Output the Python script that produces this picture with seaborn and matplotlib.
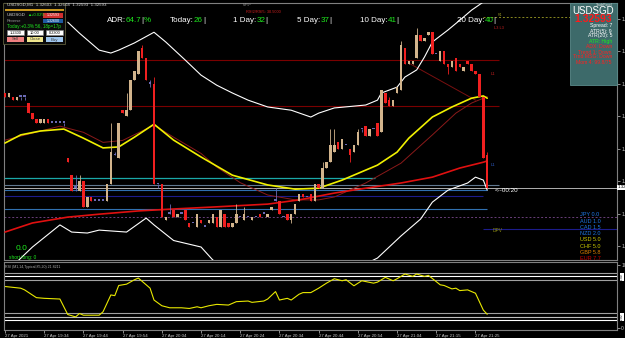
import numpy as np
import pandas as pd
import seaborn as sns
import matplotlib.pyplot as plt
from matplotlib.patches import Rectangle

W, H = 625, 338
BASE = 1.32500
POINT = 0.00001

# USDSGD M1 candles, quoted in points above 1.32500
opens = [122, 121, 121, 120, 121, 121, 119, 116, 114, 113,
         113, 114, 113, 113, 113, 113, 102, 97, 93, 92,
         95, 87, 90, 89, 89, 89, 89, 94, 103, 102,
         117, 115, 117, 126, 128, 136, 133, 125, 125, 94,
         94, 83, 85, 86, 84, 85, 86, 82, 82, 81,
         83, 81, 82, 82, 84, 81, 85, 82, 81, 82,
         84, 83, 84, 83, 84, 85, 85, 84, 86, 89,
         89, 84, 85, 83, 85, 89, 91, 90, 91, 89,
         94, 93, 99, 101, 104, 107, 105, 106, 105, 104,
         106, 111, 112, 109, 111, 113, 110, 122, 120, 118,
         122, 123, 136, 131, 131, 133, 140, 138, 140, 141,
         134, 132, 135, 131, 130, 133, 131, 129, 132, 131,
         129, 128, 121, 103]
closes = [121, 122, 120, 121, 121, 121, 116, 114, 113, 114,
          114, 113, 113, 113, 113, 113, 101, 92, 93, 95,
          87, 90, 89, 89, 89, 89, 94, 104, 103, 113,
          116, 117, 126, 129, 135, 133, 126, 125, 94, 94,
          84, 84, 85, 84, 85, 85, 83, 81, 82, 85,
          82, 81, 83, 85, 81, 86, 81, 81, 82, 85,
          84, 85, 84, 84, 84, 84, 85, 85, 87, 89,
          85, 84, 83, 85, 88, 91, 90, 90, 89, 94,
          93, 99, 101, 106, 106, 105, 108, 106, 103, 106,
          110, 111, 109, 111, 111, 109, 123, 119, 118, 120,
          124, 137, 131, 132, 132, 140, 138, 139, 141, 134,
          134, 135, 131, 130, 132, 129, 130, 130, 131, 129,
          128, 121, 102, 93]
highs = [122, 122, 121, 121, 121, 121, 119, 116, 114, 114,
         114, 114, 113, 113, 113, 113, 102, 97, 97, 97,
         95, 90, 90, 89, 89, 89, 94, 113, 104, 113,
         117, 122, 126, 129, 135, 137, 133, 126, 127, 94,
         94, 84, 88, 86, 85, 85, 86, 82, 82, 85,
         83, 81, 83, 85, 84, 86, 85, 82, 82, 88,
         84, 87, 84, 84, 84, 85, 85, 85, 87, 93,
         89, 84, 85, 85, 88, 91, 91, 90, 91, 94,
         94, 101, 101, 111, 111, 107, 108, 106, 105, 106,
         111, 111, 112, 111, 111, 113, 123, 122, 121, 120,
         124, 138, 136, 132, 132, 142, 140, 139, 141, 141,
         134, 135, 135, 131, 132, 133, 131, 130, 132, 131,
         129, 128, 121, 104]
lows = [121, 121, 120, 120, 120, 120, 116, 114, 113, 113,
        113, 113, 113, 113, 113, 112, 101, 92, 92, 92,
        87, 87, 89, 89, 89, 89, 89, 94, 103, 102,
        116, 115, 117, 126, 128, 133, 126, 124, 94, 93,
        84, 83, 85, 84, 84, 85, 83, 81, 82, 81,
        82, 81, 82, 82, 81, 81, 81, 81, 81, 82,
        84, 83, 84, 83, 84, 84, 85, 84, 86, 89,
        85, 84, 83, 82, 85, 89, 90, 90, 89, 89,
        93, 93, 99, 101, 104, 105, 105, 106, 101, 104,
        106, 110, 109, 109, 111, 109, 110, 119, 118, 118,
        122, 123, 131, 131, 131, 133, 138, 138, 140, 134,
        134, 132, 131, 128, 130, 129, 130, 129, 131, 129,
        128, 121, 102, 93]

# indicator readings (bar index, points above 1.32500)
bb_up_bar = [16, 19, 24, 27, 29, 33, 38, 41, 46, 50, 54, 58, 62, 67, 73, 78,
             80, 84, 92, 95, 96, 100, 102, 105, 107, 109, 113, 116, 119, 122, 123]
bb_up = [143.9, 140.5, 135.3, 134.4, 135.3, 137.5, 140.8, 137.8, 132.2, 127.6,
         124.5, 122.1, 119.9, 117.8, 116.8, 114.7, 115.9, 117.5, 118.4, 119.9,
         122.1, 123.9, 127.0, 129.2, 133.2, 137.8, 141.5, 144.5, 147.6, 150.1, 151.0]
bb_lo_bar = [0, 3, 7, 14, 17, 21, 24, 31, 36, 38, 43, 50, 53, 62, 75, 86,
             95, 101, 106, 109, 113, 118, 120, 122, 123]
bb_lo = [67.5, 70.1, 74.7, 81.5, 79.3, 79.0, 79.9, 79.3, 83.6, 81.5, 76.7, 74.7,
         70.7, 64.5, 63.0, 66.0, 71.3, 78.1, 83.3, 88.5, 92.2, 94.4, 96.2, 95.3, 92.2]
ma_fast_bar = [0, 4, 9, 15, 20, 25, 29, 33, 38, 43, 50, 58, 67, 74, 80, 86,
               95, 100, 103, 109, 114, 119, 122, 123]
ma_fast = [106.7, 109.2, 110.4, 111.0, 108.2, 105.2, 105.5, 108.5, 112.5, 107.6,
           102.4, 96.8, 93.8, 92.5, 92.8, 95.3, 99.9, 103.9, 108.2, 114.7, 117.8,
           120.5, 121.2, 120.5]
ma_mid_bar = [0, 14, 20, 25, 30, 38, 43, 50, 54, 60, 67, 74, 80, 84, 92, 101,
              109, 115, 119, 123]
ma_mid = [107.6, 111.9, 110.0, 106.9, 107.5, 112.2, 108.5, 103.5, 99.3, 94.5,
          90.7, 89.2, 89.2, 90.1, 94.4, 100.5, 109.2, 115.9, 119.0, 121.0]
ma_slow_bar = [0, 7, 16, 24, 34, 43, 53, 67, 75, 84, 92, 101, 109, 116, 122, 123]
ma_slow = [79.3, 82.1, 83.9, 84.8, 85.8, 86.4, 87.0, 87.9, 89.2, 91.3, 92.8,
           94.4, 96.2, 99.0, 100.8, 101.2]
trend_bar = [103, 120]
trend = [131.3, 119.9]

rsi_bar = [0, 4, 5, 8, 10, 14, 16, 18, 19, 20, 24, 25, 27, 28, 29, 31, 33, 34,
           36, 37, 38, 40, 42, 45, 47, 49, 50, 52, 54, 57, 59, 62, 63, 66, 67,
           69, 70, 72, 73, 75, 76, 78, 80, 82, 84, 86, 87, 89, 91, 94, 95, 97,
           99, 100, 102, 104, 105, 107, 108, 111, 112, 114, 115, 116, 118, 120,
           121, 122, 123]
rsi = [65.9, 63.2, 60.5, 48.2, 47.1, 46.0, 21.4, 17.6, 23.0, 20.3, 20.3, 25.7,
       52.5, 51.4, 67.5, 69.6, 76.6, 79.3, 68.6, 63.2, 44.4, 35.3, 32.1, 32.1,
       31.0, 33.7, 32.1, 35.3, 37.5, 36.4, 41.8, 42.8, 40.7, 42.8, 46.0, 57.8,
       44.4, 47.1, 44.4, 53.6, 56.2, 56.2, 63.2, 71.2, 78.2, 75.0, 76.6, 67.0,
       75.0, 71.2, 72.8, 80.4, 75.0, 78.2, 85.7, 82.0, 85.7, 82.0, 83.6, 68.6,
       67.5, 62.1, 63.2, 59.4, 60.5, 55.2, 41.8, 28.4, 21.8]
rsi_levels = [88, 82, 76, 24, 18, 12]

price_ticks = [145, 135, 125, 115, 105, 95, 85, 75]
time_bars = [0, 10, 20, 30, 40, 50, 60, 70, 80, 90, 100, 110, 120]
time_labels = ["27 Apr 2021", "27 Apr 19:34", "27 Apr 19:44", "27 Apr 19:54",
               "27 Apr 20:04", "27 Apr 20:14", "27 Apr 20:24", "27 Apr 20:34",
               "27 Apr 20:44", "27 Apr 20:54", "27 Apr 21:04", "27 Apr 21:15",
               "27 Apr 21:25"]

adr_labels = ["ADR:", "Today:", "1 Day:", "5 Day:", "10 Day:", "20 Day:"]
adr_values = ["64.7", "26", "32", "37", "41", "40"]
ccy_names = ["JPY", "AUD", "CAD", "NZD", "USD", "CHF", "GBP", "EUR"]
ccy_strength = [0.0, 1.0, 1.5, 2.0, 5.0, 5.0, 5.8, 7.7]
ccy_colors = ["#1e78e6"] * 4 + ["#c8c800"] * 2 + ["#e08000", "#c80000"]

BULL, BEAR, DOJI = "#d2b48c", "#f02020", "#6a6ab4"
GREEN = "#1ee81e"


def px(p):
    return BASE + np.asarray(p, dtype=float) * POINT


sns.set_theme(style="dark", rc={
    "figure.facecolor": "black", "axes.facecolor": "black",
    "axes.edgecolor": "#808080", "axes.linewidth": 0.8,
    "xtick.color": "#c8c8c8", "ytick.color": "#c8c8c8", "text.color": "white",
})
plt.rcParams["font.family"] = ["Liberation Sans", "DejaVu Sans"]

fig = plt.figure(figsize=(W / 100, H / 100), dpi=100)
ax = fig.add_axes([4 / W, 1 - 260 / H, 613 / W, 257 / H])
ax_rsi = fig.add_axes([4 / W, 1 - 330 / H, 613 / W, 68 / H], sharex=ax)

# ---- candles
df = pd.DataFrame({"open": opens, "high": highs, "low": lows, "close": closes})
df = df.apply(px)
df["bar"] = np.arange(len(df))
col = np.where(df.close > df.open, BULL, np.where(df.close < df.open, BEAR, DOJI))
body_lo = df[["open", "close"]].min(axis=1)
body_h = (df.close - df.open).abs().clip(lower=0.35 * POINT)
ax.vlines(df.bar, df.low, df.high, colors=col, lw=0.6, zorder=4)
ax.bar(df.bar, body_h, bottom=body_lo, width=0.62, color=col, lw=0, zorder=5)

# ---- horizontal levels
ax.hlines(px([132.2, 118.1]), -1, 126, colors="#7a0000", lw=0.8, zorder=2)
ax.hlines(px(95.9), -1, 94.4, colors="#1aa8a8", lw=0.9, zorder=2)
ax.hlines(px(93.8), -1, 126, colors="#607890", lw=0.8, zorder=2)
ax.axhline(px(93.0), color="#b0b0b0", lw=0.7, zorder=2)
ax.hlines(px(92.3), -1, 123, colors="#2f6fb0", lw=0.8, zorder=2)
ax.hlines(px(90.4), -1, 122, colors="#1c1c8c", lw=0.8, zorder=2)
ax.hlines(px(86.4), -1, 123, colors="#3070b0", lw=0.8, zorder=2)
ax.axhline(px(83.9), color="#6a3f7a", lw=0.7, ls=(0, (2, 2)), zorder=2)
ax.hlines(px(80.2), 122, 160, colors="#1c1c8c", lw=0.8, zorder=2)
ax.hlines(px(145.5), 122, 160, colors="#8a8a20", lw=0.7, linestyles=(0, (2, 2)), zorder=2)

# ---- indicator lines
sns.lineplot(x=trend_bar, y=px(trend), ax=ax, color="#7a1010", lw=0.7, legend=False, zorder=3)
sns.lineplot(x=ma_mid_bar, y=px(ma_mid), ax=ax, color="#8b1a1a", lw=0.7, legend=False, zorder=3)
sns.lineplot(x=ma_slow_bar, y=px(ma_slow), ax=ax, color="#e01010", lw=1.2, legend=False, zorder=3)
sns.lineplot(x=ma_fast_bar, y=px(ma_fast), ax=ax, color="#f0f000", lw=1.2, legend=False, zorder=3)
sns.lineplot(x=bb_up_bar, y=px(bb_up), ax=ax, color="white", lw=0.8, legend=False, zorder=3)
sns.lineplot(x=bb_lo_bar, y=px(bb_lo), ax=ax, color="white", lw=0.8, legend=False, zorder=3)

ax.set_xlim(-0.26, 156.1)
ax.set_ylim(px(70.7), px(149.8))
ax.set_xlabel("")
ax.set_ylabel("")
ax.yaxis.tick_right()
ax.set_yticks(px(price_ticks))
ax.set_yticklabels([f"{v:.5f}" for v in px(price_ticks)])
ax.tick_params(axis="y", right=True, length=2, width=0.5, labelsize=3.5, pad=1)
ax.tick_params(axis="x", bottom=False, labelbottom=False)

# ---- RSI window
for lv, c in zip(rsi_levels, ["#a0a0a0", "white", "#a0a0a0", "#a0a0a0", "#c0c0c0", "white"]):
    ax_rsi.axhline(lv, color=c, lw=0.8)
sns.lineplot(x=rsi_bar, y=rsi, ax=ax_rsi, color="#e8e800", lw=0.8, legend=False)
ax_rsi.set_ylim(-3.2, 104.8)
ax_rsi.set_xlabel("")
ax_rsi.set_ylabel("")
ax_rsi.yaxis.tick_right()
ax_rsi.set_yticks([0, 100])
ax_rsi.set_yticklabels(["0", "100"])
ax_rsi.tick_params(axis="y", right=True, length=2, width=0.5, labelsize=3.5, pad=1)
ax_rsi.set_xticks(time_bars)
ax_rsi.set_xticklabels(time_labels, ha="left")
ax_rsi.tick_params(axis="x", bottom=True, length=2, width=0.5, labelsize=3.2, pad=1)


# ---- overlay texts and panels
def put(x, y, s, color="white", size=4, ha="left", **kw):
    return fig.text(x / W, 1 - y / H, s, color=color, fontsize=size, ha=ha, va="center", **kw)


def box(x0, y0, x1, y1, fc, ec="none", lw=0.5):
    fig.add_artist(Rectangle((x0 / W, 1 - y1 / H), (x1 - x0) / W, (y1 - y0) / H,
                             transform=fig.transFigure, facecolor=fc, edgecolor=ec, lw=lw))


renderer = fig.canvas.get_renderer()


def put_row(x, y, parts, size):
    for s, c in parts:
        t = put(x, y, s, c, size)
        x += t.get_window_extent(renderer).width


# trade panel, top left
box(3, 3, 65, 44, "#0a0a0a", "#5a5a3a", 0.6)
box(5, 9, 64, 11, "#c8961e")
put(7, 5, "USDSGD,M1  1.32603  1.32604  1.32593  1.32593", "#d8d8d8", 3.2)
put(7, 15, "USDSGD", "#d0d0d0", 3.2)
put(27, 15, "\u25b2+0.02%", GREEN, 3.0)
box(43, 13, 63, 18, "#d03030")
put(53, 15.5, "1.32593", "white", 2.6, ha="center")
box(43, 19, 63, 23, "#1e5aa0")
put(53, 21, "1.32600", "white", 2.6, ha="center")
put(7, 21, "Reverse", "#a0a0a0", 2.8)
put(7, 26.5, "Today:+0.3% 56, 18p=17p", GREEN, 3.3)
for (x0, x1), s in zip([(7, 24), (27, 43), (46, 63)], ["1.2300", "10.00", "0.2300"]):
    box(x0, 30, x1, 35, "white", "#808080", 0.4)
    put((x0 + x1) / 2, 32.5, s, "black", 2.8, ha="center")
for (x0, x1), s, c in zip([(7, 24), (27, 43), (46, 63)], ["Sell", "Close", "Buy"],
                          ["#f08080", "#f0e68c", "#a0c8f0"]):
    box(x0, 37, x1, 42, c)
    put((x0 + x1) / 2, 39.5, s, "#404040", 3.2, ha="center")

# ADR row
adr_x = [107, 170, 233, 297, 360, 457]
for i, (lab, val, x) in enumerate(zip(adr_labels, adr_values, adr_x)):
    parts = [(lab, "white"), (val, GREEN), ("|", "white")]
    if i == 0:
        parts.append(("%", GREEN))
    put_row(x, 21, parts, 5.8)

put(243, 5, "MF5^", "#909090", 2.6)
put(246, 12, "RSI2/RSI5: 30.5000", "#d02020", 2.8)
put(498, 15, "R1", "#8a8a20", 2.6)
put(494, 28, "L3 L3", "#cc2020", 2.8)
put(491, 74, "L1", "#cc2020", 3)
put(491, 165, "L1", "#3060d0", 3)
put(495, 191, "<--00:20", "white", 4.5)
put(493, 231, "DPV", "#8a8a10", 3.5)

# info panel, top right
box(570, 3, 617, 85, "#3d6a6a", "#5a8a8a", 0.6)
put(604, 5, "TradePanel", "#e0e0e0", 2.3, ha="center")
put(593, 10.5, "USDSGD", "white", 7, ha="center")
put(593, 18.5, "1.32593", "#ff1a1a", 7.5, ha="center", fontweight="bold")
info = [("Spread: 7", "white", 25.5), ("ATR(5): 9", "white", 31), ("ATR(20): 5", "white", 36),
        ("ATR: High", GREEN, 42), ("ADX: Down", "#ff2020", 47), ("Trend 1: Down", "#ff2020", 52),
        ("Trnd MSG: Down", "#ff2020", 57), ("Mom 4: 99.8/75", "#ff2020", 62)]
for s, c, y in info:
    put(612, y, s, c, 3.7, ha="right")

# currency strength
for i, (n, v, c) in enumerate(zip(ccy_names, ccy_strength, ccy_colors)):
    put(580, 215 + 6.2 * i, f"{n} {v:.1f}", c, 4)

put(16, 249, "0.0", GREEN, 6)
put(9, 257, "short long: 0", GREEN, 3.5)
put(5, 267, "RSI (M1,14,Typical,85,20) 21.8211", "#b0b0b0", 2.6)

# bid price marker and RSI level tags on the right scale
put(617.5, 187.5, "1.32593", "black", 3.2, bbox=dict(fc="white", ec="none", pad=0.4))
put(620, 277, "85.00", "black", 2.2, rotation=90, bbox=dict(fc="white", ec="none", pad=0.3))
put(620, 317, "20.00", "black", 2.2, rotation=90, bbox=dict(fc="white", ec="none", pad=0.3))

fig.savefig("out.png", dpi=100, facecolor="black")
